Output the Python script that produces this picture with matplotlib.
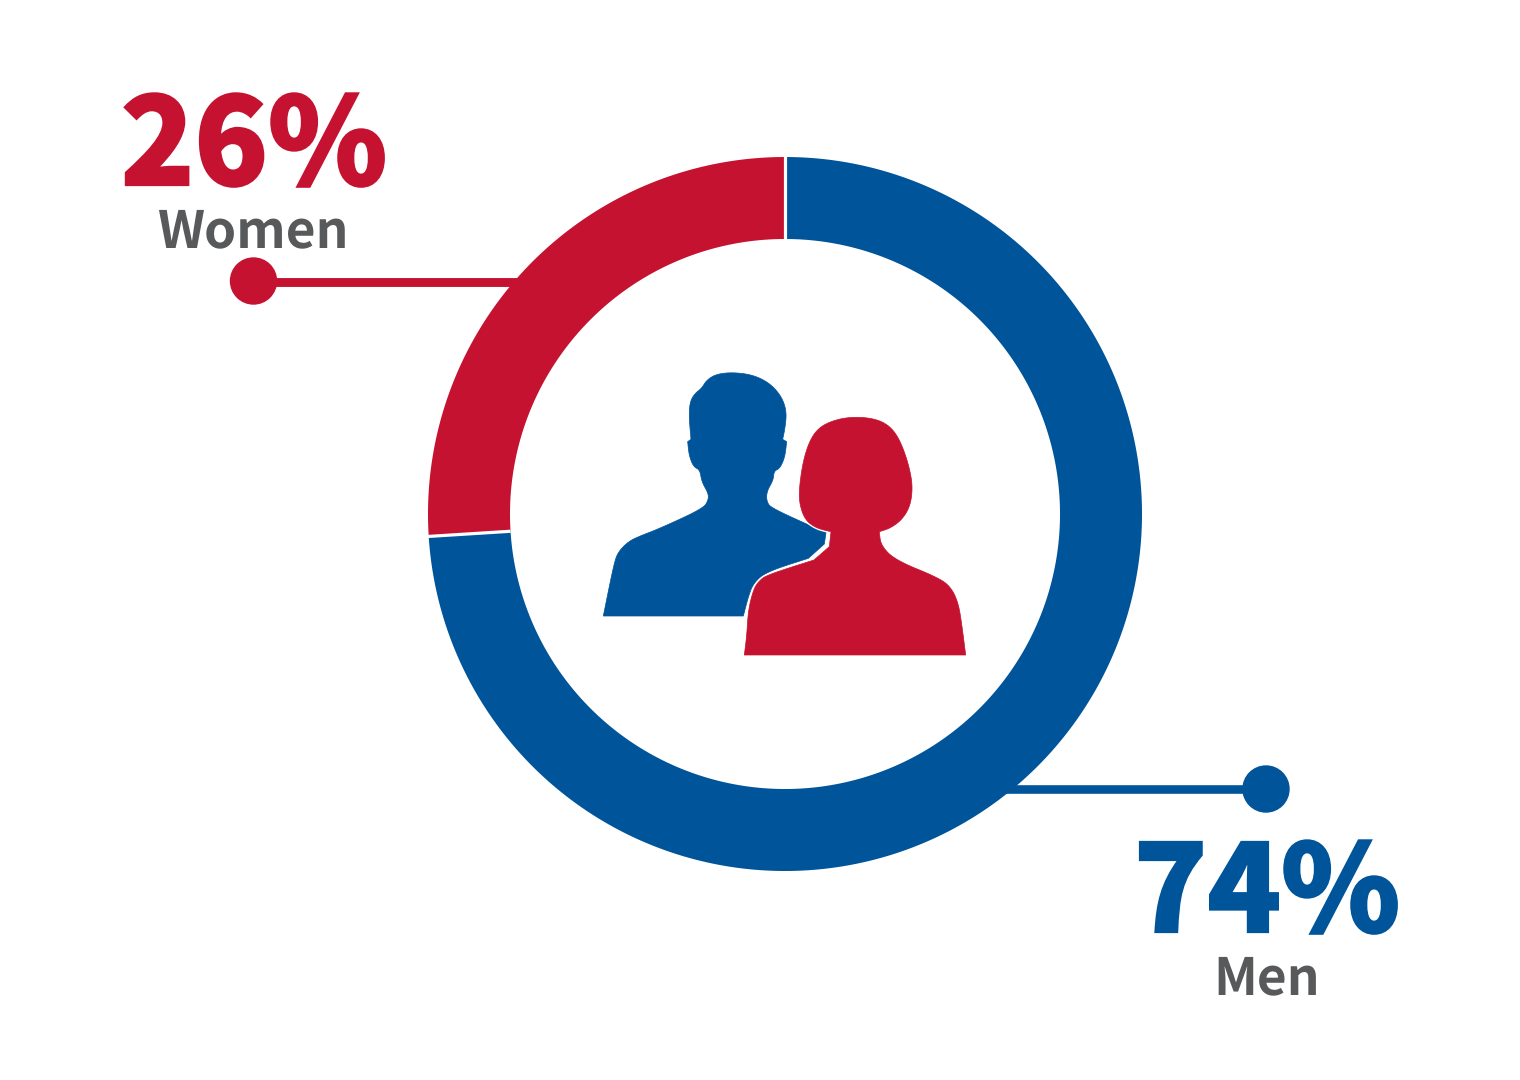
import matplotlib
matplotlib.use("Agg")
import matplotlib.pyplot as plt
import matplotlib.patheffects as pe
import numpy as np
from matplotlib.patches import Circle, PathPatch
from matplotlib.path import Path

plt.rcParams["text.hinting"] = "no_hinting"
plt.rcParams["text.hinting_factor"] = 1

groups = ["Women", "Men"]
shares = [26, 74]

RED = "#C41230"
BLUE = "#00549A"
GREY = "#58595B"
colors = [RED, BLUE]

W, H = 1520, 1080
CX, CY = 785, 514
R_OUT, R_IN = 357, 275

man_outline = [(40, 768), (72, 610), (85, 575), (115, 545), (145, 530), (210, 505), (340, 445),
               (355, 420), (355, 400), (335, 365), (330, 330), (310, 320), (297, 285), (293, 245),
               (303, 238), (297, 170), (300, 125), (315, 100), (335, 85), (350, 60), (380, 42),
               (430, 37), (490, 45), (540, 70), (575, 110), (590, 155), (585, 205), (578, 238),
               (590, 245), (585, 290), (570, 325), (552, 333), (550, 360), (530, 395), (530, 425),
               (545, 445), (708, 518), (703, 552), (655, 595), (530, 635), (490, 670), (475, 710),
               (460, 768)]
man_corners = [0, 13, 14, 27, 28, 36, 37, 38, 42]
woman_outline = [(463, 885), (470, 830), (475, 750), (490, 690), (505, 665), (530, 645), (672, 600),
                 (718, 560), (723, 515), (680, 505), (645, 480), (628, 430), (628, 380), (640, 300),
                 (660, 240), (685, 205), (720, 185), (770, 172), (830, 172), (880, 185), (915, 215),
                 (940, 265), (960, 330), (968, 385), (960, 440), (935, 480), (900, 505), (868, 515),
                 (872, 555), (915, 600), (1050, 655), (1085, 685), (1105, 730), (1115, 790), (1127, 885)]
woman_corners = [0, 6, 7, 8, 27, 34]


def smooth(outline, corners, rounds=3):
    # chaikin corner cutting, the flagged points stay sharp
    pts = [(np.array(p, dtype=float), i in corners) for i, p in enumerate(outline)]
    for _ in range(rounds):
        new_pts = []
        for i, (p, sharp) in enumerate(pts):
            if sharp:
                new_pts.append((p, True))
                continue
            prev_p = pts[i - 1][0]
            next_p = pts[(i + 1) % len(pts)][0]
            new_pts.append((0.75 * p + 0.25 * prev_p, False))
            new_pts.append((0.75 * p + 0.25 * next_p, False))
        pts = new_pts
    return [p for p, _ in pts]


def silhouette(ax, outline, corners, color):
    pts = [(590 + x / 3, 360 + y / 3) for x, y in smooth(outline, corners)]
    path = Path(pts + [pts[0]], closed=True)
    patch = PathPatch(path, facecolor=color, edgecolor=color, lw=0.5, joinstyle="round")
    patch.set_path_effects([pe.Stroke(linewidth=2.5, foreground="white"), pe.Normal()])
    ax.add_patch(patch)


fig = plt.figure(figsize=(W / 100, H / 100), dpi=100, facecolor="white")

# pixel space axes for the callouts and the icons
ax = fig.add_axes([0, 0, 1, 1])
ax.set_xlim(0, W)
ax.set_ylim(H, 0)
ax.axis("off")

ax.plot([253, 530], [282, 282], color=RED, lw=6.4, solid_capstyle="butt")
ax.add_patch(Circle((253.5, 281), 23, color=RED))
ax.plot([1000, 1266], [789, 789], color=BLUE, lw=6.2, solid_capstyle="butt")
ax.add_patch(Circle((1266, 789), 23, color=BLUE))

big = dict(family="Noto Sans CJK JP", weight=900, fontsize=87, ha="center", va="baseline")
small = dict(family="Noto Sans CJK JP", weight=700, fontsize=37, color=GREY, ha="center", va="baseline")

t1 = ax.text(254, 185, f"{shares[0]}%", color=RED, **big)
ax.text(253, 247, groups[0], **small)
t2 = ax.text(1267, 932, f"{shares[1]}%", color=BLUE, **big)
ax.text(1267, 994, groups[1], **small)
for t in (t1, t2):
    t.set_path_effects([pe.withStroke(linewidth=1.6, foreground=t.get_color(), joinstyle="miter")])

silhouette(ax, man_outline, man_corners, BLUE)
silhouette(ax, woman_outline, woman_corners, RED)

# donut on its own axes, scaled so that radius 1 is the outer edge
pad = 1.02
pie_ax = fig.add_axes([(CX - R_OUT * pad) / W, 1 - (CY + R_OUT * pad) / H,
                       2 * R_OUT * pad / W, 2 * R_OUT * pad / H])
wedges, _ = pie_ax.pie(shares, colors=colors, startangle=90, counterclock=True, radius=1,
                       wedgeprops=dict(width=(R_OUT - R_IN) / R_OUT, edgecolor="none"))
pie_ax.patch.set_alpha(0)

# agg flattens the wedge curves into visible facets, swap in finer rings
r0 = R_IN / R_OUT
for w in wedges:
    t = np.radians(np.linspace(w.theta1, w.theta2, 1200))
    outer = np.column_stack([np.cos(t), np.sin(t)])
    w._path = Path(np.vstack([outer, outer[::-1] * r0, outer[:1]]), closed=True)
    # white gap where the two shares meet
    a = np.radians(w.theta1)
    pie_ax.plot([r0 * np.cos(a), np.cos(a) * pad], [r0 * np.sin(a), np.sin(a) * pad],
                color="white", lw=2.3, solid_capstyle="butt", zorder=5)
pie_ax.set_xlim(-pad, pad)
pie_ax.set_ylim(-pad, pad)

fig.savefig("out.png", dpi=100, facecolor="white")
